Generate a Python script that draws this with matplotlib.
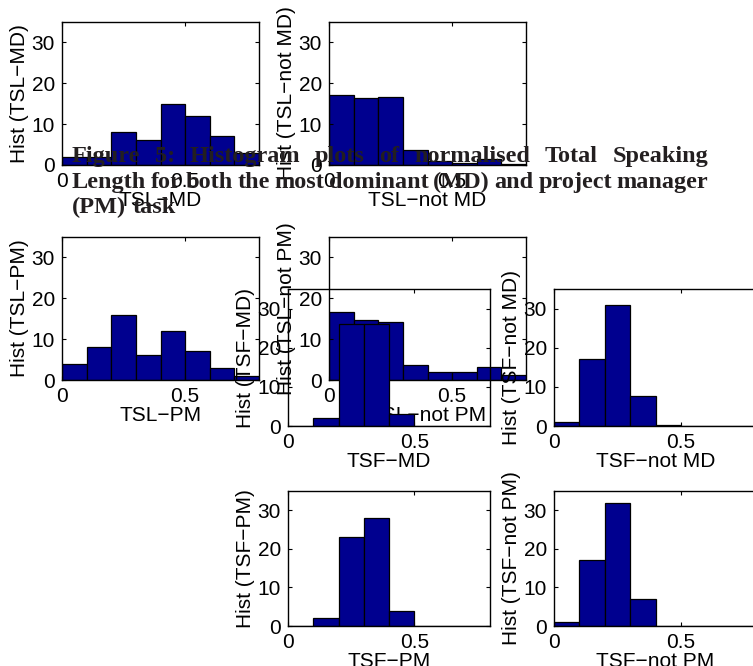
import matplotlib
matplotlib.use("Agg")
import matplotlib.pyplot as plt
import numpy as np

# bin centres of the histograms (bin width 0.1)
bin_centers = [0.05, 0.15, 0.25, 0.35, 0.45, 0.55, 0.65, 0.75]

# counts per bin
tsl_md = [2, 2, 8, 6, 15, 12, 7, 3]
tsl_not_md = [17.2, 16.3, 16.6, 3.7, 1.0, 0.4, 1.5, 0.3]
tsl_pm = [4, 8, 16, 6, 12, 7, 3, 1]
tsl_not_pm = [16.6, 14.8, 14.1, 3.7, 2.0, 2.0, 3.1, 1.2]
tsf_md = [0, 2, 26, 26, 3, 0, 0, 0]
tsf_not_md = [1, 17, 31, 7.7, 0.3, 0, 0, 0]
tsf_pm = [0, 2, 23, 28, 4, 0, 0, 0]
tsf_not_pm = [1, 17, 32, 7, 0, 0, 0, 0]

names = ["TSL\u2212MD", "TSL\u2212not MD", "TSL\u2212PM", "TSL\u2212not PM",
         "TSF\u2212MD", "TSF\u2212not MD", "TSF\u2212PM", "TSF\u2212not PM"]
series = [tsl_md, tsl_not_md, tsl_pm, tsl_not_pm,
          tsf_md, tsf_not_md, tsf_pm, tsf_not_pm]

caption_lines = [
    "Figure 5: Histogram plots of normalised Total Speaking",
    "Length for both the most dominant (MD) and project manager",
    "(PM) task",
]

W, H = 753, 666
fig = plt.figure(figsize=(W / 100, H / 100), dpi=100)

# axes boxes in pixels: left, top, right, bottom
boxes = [
    (62, 22, 259, 165), (329, 22, 526, 165),
    (62, 237, 259, 380), (329, 237, 526, 380),
    (288, 289, 490, 426), (554, 289, 757, 426),
    (288, 491, 490, 626), (554, 491, 757, 626),
]

sans = "Liberation Sans"
for (x0, y0, x1, y1), name, vals in zip(boxes, names, series):
    ax = fig.add_axes([x0 / W, 1 - y1 / H, (x1 - x0) / W, (y1 - y0) / H])
    ax.set_facecolor("none")
    ax.bar(bin_centers, vals, width=0.1, color="#00008F", edgecolor="black", linewidth=0.9)
    ax.set_xlim(0, 0.8)
    ax.set_ylim(0, 35)
    ax.set_xticks([0, 0.5])
    ax.set_xticklabels(["0", "0.5"])
    ax.set_yticks([0, 10, 20, 30])
    ax.tick_params(direction="in", length=3, width=0.8, top=True, right=True,
                   labelsize=15, pad=5)
    for lab in ax.get_xticklabels() + ax.get_yticklabels():
        lab.set_fontfamily(sans)
    ax.set_xlabel(name, fontsize=15, family=sans, labelpad=0)
    ax.set_ylabel("Hist (" + name + ")", fontsize=15, family=sans, labelpad=2)
    for s in ax.spines.values():
        s.set_linewidth(1.0)

# justified bold serif caption on top of the plots
fig.canvas.draw()
renderer = fig.canvas.get_renderer()
left_px, right_px = 72, 708
baselines = [162, 188, 213]
for i, (line, yb) in enumerate(zip(caption_lines, baselines)):
    words = line.split(" ")
    texts = [fig.text(0, 1 - yb / H, w, family="Liberation Serif", fontweight="bold",
                      fontsize=17.5, color="#231F20", va="baseline", ha="left", zorder=10)
             for w in words]
    widths = [t.get_window_extent(renderer).width for t in texts]
    if i < len(caption_lines) - 1:
        gap = (right_px - left_px - sum(widths)) / (len(words) - 1)
    else:
        gap = 6
    x = left_px
    for t, w in zip(texts, widths):
        t.set_x(x / W)
        x += w + gap

fig.savefig("out.png", dpi=100)
